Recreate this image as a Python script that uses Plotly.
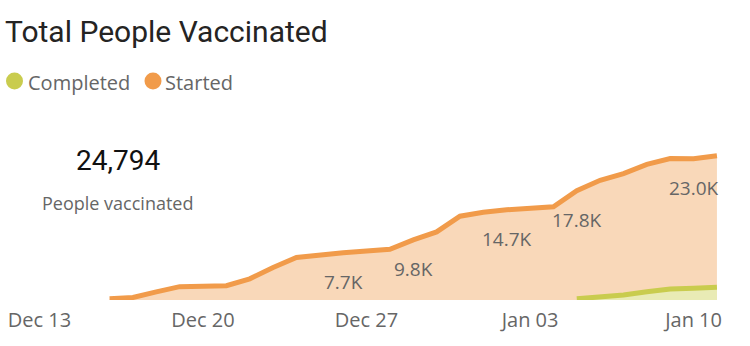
import plotly.graph_objects as go
import pandas as pd

# ---- data ----
dates_started = [
    "2020-12-16", "2020-12-17", "2020-12-18", "2020-12-19", "2020-12-20",
    "2020-12-21", "2020-12-22", "2020-12-23", "2020-12-24", "2020-12-25",
    "2020-12-26", "2020-12-27", "2020-12-28", "2020-12-29", "2020-12-30",
    "2020-12-31", "2021-01-01", "2021-01-02", "2021-01-03", "2021-01-04",
    "2021-01-05", "2021-01-06", "2021-01-07", "2021-01-08", "2021-01-09",
    "2021-01-10", "2021-01-11",
]
started = [
    210, 400, 1330, 2170, 2250,
    2330, 3450, 5300, 6920, 7400,
    7700, 7980, 8260, 9800, 11100,
    13650, 14300, 14700, 14900, 15200,
    17800, 19500, 20600, 22100, 23050,
    23000, 23500,
]
dates_completed = [
    "2021-01-05", "2021-01-06", "2021-01-07", "2021-01-08",
    "2021-01-09", "2021-01-10", "2021-01-11",
]
completed = [200, 440, 800, 1350, 1800, 1900, 2070]

label_dates = ["2020-12-26", "2020-12-29", "2021-01-02", "2021-01-05", "2021-01-10"]
tick_dates = ["2020-12-13", "2020-12-20", "2020-12-27", "2021-01-03", "2021-01-10"]
total_people = 24794
series_names = ["Completed", "Started"]

# ---- styling ----
ORANGE = "#F19B4A"
ORANGE_FILL = "rgb(249,216,185)"
GREEN = "#C9CC4E"
GREEN_FILL = "rgb(233,235,181)"
GRAY = "#666666"
W, H = 750, 346
PLOT_H = 300  # plot area height in px (baseline at y=300)

px_per_day = 23.36
d13 = pd.Timestamp(tick_dates[0])
x_start = d13 - pd.Timedelta(days=39.5 / px_per_day)
x_end = x_start + pd.Timedelta(days=W / px_per_day)
y_max = PLOT_H / 6.138 * 1000


def px(x):
    return x / W


def py(y):
    return (PLOT_H - y) / PLOT_H


fig = go.Figure()
fig.add_trace(go.Scatter(
    x=pd.to_datetime(dates_started), y=started, mode="lines",
    line=dict(color=ORANGE, width=5), fill="tozeroy", fillcolor=ORANGE_FILL,
    name=series_names[1], hoverinfo="skip", showlegend=False,
))
fig.add_trace(go.Scatter(
    x=pd.to_datetime(dates_completed), y=completed, mode="lines",
    line=dict(color=GREEN, width=5), fill="tozeroy", fillcolor=GREEN_FILL,
    name=series_names[0], hoverinfo="skip", showlegend=False,
))

annotations = []
lookup = dict(zip(dates_started, started))
for d in label_dates:
    v = lookup[d]
    annotations.append(dict(
        x=pd.Timestamp(d), y=v, xref="x", yref="y", showarrow=False,
        text=f"{v/1000:.1f}K", yshift=-29, yanchor="middle", xanchor="center",
        font=dict(family="Open Sans", size=19, color=GRAY),
    ))

# title
annotations.append(dict(
    x=px(3), y=py(31), xref="paper", yref="paper", xanchor="left", yanchor="middle",
    text="Total People Vaccinated", showarrow=False,
    font=dict(family="Roboto", size=30, color="#252423"),
))
# legend text
annotations.append(dict(
    x=px(26), y=py(82), xref="paper", yref="paper", xanchor="left", yanchor="middle",
    text=series_names[0], showarrow=False,
    font=dict(family="Open Sans", size=20, color=GRAY),
))
annotations.append(dict(
    x=px(163), y=py(82), xref="paper", yref="paper", xanchor="left", yanchor="middle",
    text=series_names[1], showarrow=False,
    font=dict(family="Open Sans", size=20, color=GRAY),
))
# card
annotations.append(dict(
    x=px(118), y=py(160), xref="paper", yref="paper", xanchor="center", yanchor="middle",
    text=f"{total_people:,}", showarrow=False,
    font=dict(family="Roboto", size=28, color="#111111"),
))
annotations.append(dict(
    x=px(117), y=py(203), xref="paper", yref="paper", xanchor="center", yanchor="middle",
    text="People vaccinated", showarrow=False,
    font=dict(family="Open Sans", size=18, color=GRAY),
))

shapes = []
for cx, col in [(14.5, GREEN), (153, ORANGE)]:
    r = 8.5
    shapes.append(dict(
        type="circle", xref="paper", yref="paper",
        x0=px(cx - r), x1=px(cx + r), y0=py(81 + r), y1=py(81 - r),
        fillcolor=col, line=dict(width=0),
    ))

fig.update_layout(
    width=W, height=H,
    margin=dict(l=0, r=0, t=0, b=H - PLOT_H),
    paper_bgcolor="white", plot_bgcolor="white",
    showlegend=False,
    annotations=annotations, shapes=shapes,
    xaxis=dict(
        range=[x_start, x_end], tickvals=pd.to_datetime(tick_dates), tickformat="%b %d",
        showgrid=False, zeroline=False, showline=False, ticks="",
        ticklabelstandoff=6,
        tickfont=dict(family="Open Sans", size=20, color=GRAY),
        fixedrange=True,
    ),
    yaxis=dict(range=[0, y_max], visible=False, fixedrange=True),
    hovermode=False,
)

fig.write_html("out.html")
